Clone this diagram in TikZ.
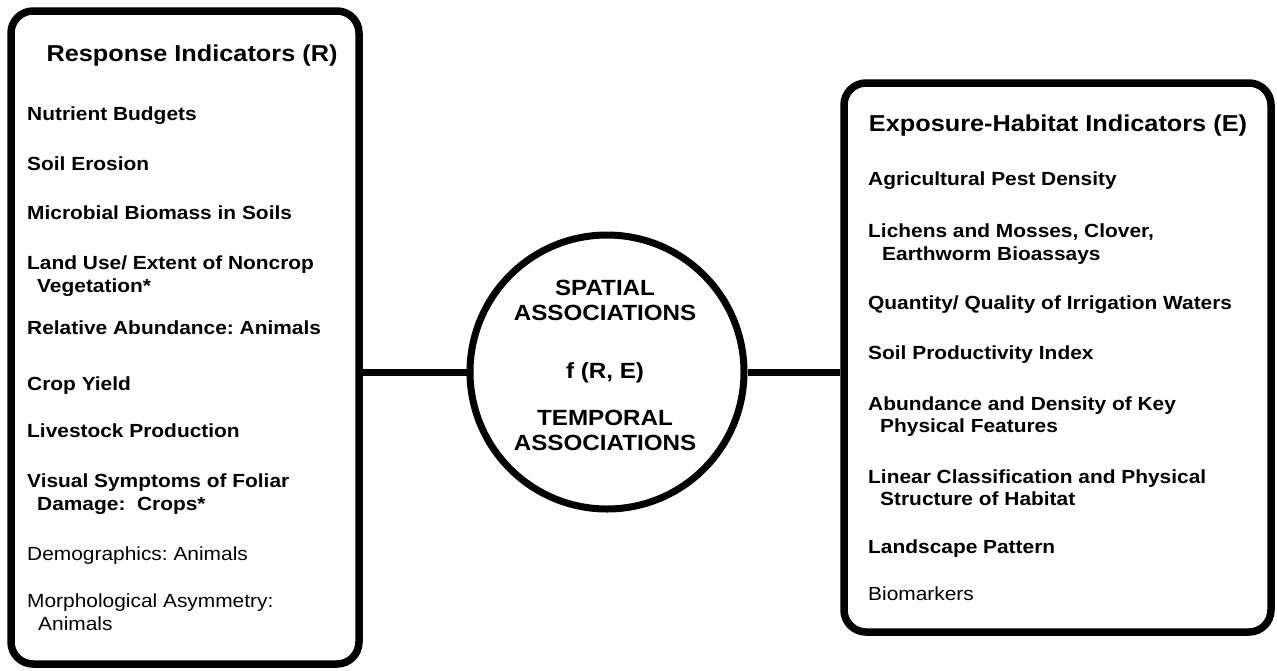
\documentclass[tikz,border=0pt]{standalone}
\usepackage{fontspec}
\setmainfont{Liberation Sans}[FakeStretch=1.1]
\frenchspacing
\begin{document}
\begin{tikzpicture}[x=1pt,y=-1pt,
  frame/.style={draw=black, line width=7.5pt, rounded corners=22pt, inner sep=0pt},
  ring/.style={draw=black, line width=7pt, circle, inner sep=0pt},
  link/.style={draw=black, line width=7pt},
  head/.style={font=\fontsize{23}{26}\selectfont\bfseries, anchor=base, inner sep=0pt},
  item/.style={font=\fontsize{19}{23}\selectfont\bfseries, anchor=base west, inner sep=0pt},
  plain/.style={font=\fontsize{19}{23}\selectfont, anchor=base west, inner sep=0pt},
  core/.style={font=\fontsize{22}{25}\selectfont\bfseries, anchor=base, inner sep=0pt}]

\useasboundingbox (0,0) rectangle (1277,670);
\fill[white] (0,0) rectangle (1277,670);

% the two indicator panels and the central association ring
\node[frame, minimum width=348pt, minimum height=653pt] (resp) at (185,337.5) {};
\node[frame, minimum width=427pt, minimum height=549pt] (expo) at (1057.5,357.5) {};
\node[ring, minimum size=274pt] (assoc) at (607,372) {};

% connectors from the ring to the panels
\draw[link] (assoc.west) -- (assoc.west -| resp.east);
\draw[link] (assoc.east) -- (assoc.east -| expo.west);

% response indicators
\node[head] (rhead) at (192,61) {Response Indicators (R)};
\node[item] (r1) at (27,120) {Nutrient Budgets};
\node[item] (r2) at (27,170) {Soil Erosion};
\node[item] (r3) at (27,219) {Microbial Biomass in Soils};
\node[item] (r4a) at (27,269) {Land Use/ Extent of Noncrop};
\node[item] (r4b) at (37,292) {Vegetation*};
\node[item] (r5) at (27,334) {Relative Abundance: Animals};
\node[item] (r6) at (27,390) {Crop Yield};
\node[item] (r7) at (27,437) {Livestock Production};
\node[item] (r8a) at (27,487) {Visual Symptoms of Foliar};
\node[item] (r8b) at (37,510) {Damage:\ \ Crops*};
\node[plain] (r9) at (27,560) {Demographics: Animals};
\node[plain] (r10a) at (27,607) {Morphological Asymmetry:};
\node[plain] (r10b) at (38,630) {Animals};

% association functions
\node[core] (c1) at (605,295) {SPATIAL};
\node[core] (c2) at (605,320) {ASSOCIATIONS};
\node[core] (c3) at (605,378) {f (R, E)};
\node[core] (c4) at (605,425) {TEMPORAL};
\node[core] (c5) at (605,450) {ASSOCIATIONS};

% exposure-habitat indicators
\node[head] (ehead) at (1058,131) {Exposure-Habitat Indicators (E)};
\node[item] (e1) at (868,185) {Agricultural Pest Density};
\node[item] (e2a) at (868,237) {Lichens and Mosses, Clover,};
\node[item] (e2b) at (882,260) {Earthworm Bioassays};
\node[item] (e3) at (868,309) {Quantity/ Quality of Irrigation Waters};
\node[item] (e4) at (868,359) {Soil Productivity Index};
\node[item] (e5a) at (868,410) {Abundance and Density of Key};
\node[item] (e5b) at (880,432) {Physical Features};
\node[item] (e6a) at (868,483) {Linear Classification and Physical};
\node[item] (e6b) at (880,505) {Structure of Habitat};
\node[item] (e7) at (868,553) {Landscape Pattern};
\node[plain] (e8) at (868,600) {Biomarkers};
\end{tikzpicture}
\end{document}
